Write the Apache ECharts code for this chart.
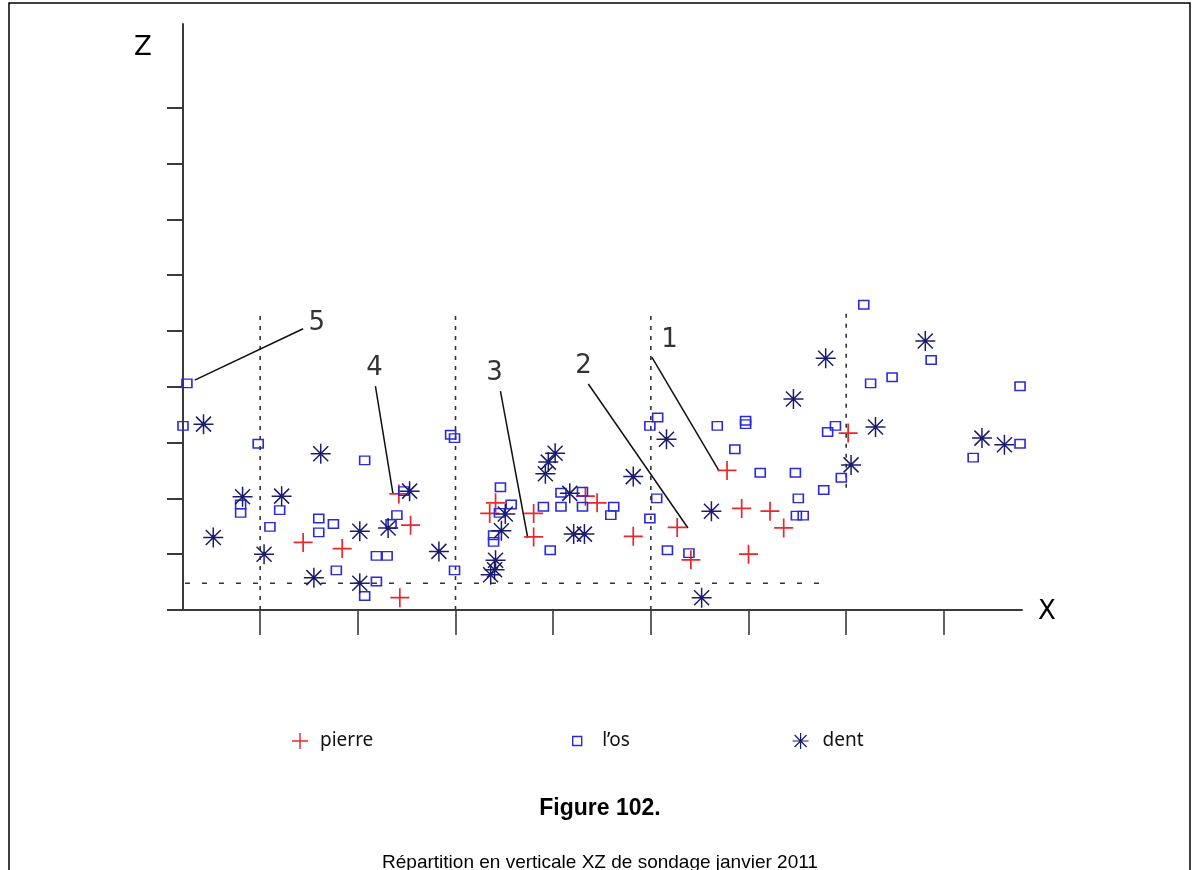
<!DOCTYPE html>
<html><head><meta charset="utf-8">
<script src="https://cdn.jsdelivr.net/npm/echarts@6/dist/echarts.min.js"></script>
<style>html,body{margin:0;padding:0;background:#fff}#c{width:1200px;height:870px}</style>
</head><body><div id="c"></div>
<script>
// ---- data (X and Z in axis units; one X tick = 1, one Z tick = 1) ----
const xTicks = [0, 1, 2, 3, 4, 5, 6, 7];
const zTicks = [0, 1, 2, 3, 4, 5, 6, 7, 8, 9];
const seriesNames = ['pierre', 'l\u2019os', 'dent'];

const pierre = [
  [0.44,1.21],[0.84,1.10],[1.42,2.08],[1.54,1.52],[1.43,0.22],[2.41,1.92],[2.35,1.73],
  [2.80,1.73],[2.80,1.31],[3.33,2.04],[3.45,1.92],[3.82,1.32],[4.27,1.48],[4.41,0.90],
  [4.78,2.50],[4.93,1.82],[5.22,1.77],[5.36,1.47],[5.00,1.00],[6.02,3.17]
];
const os = [
  [-0.75,4.06],[-0.79,3.30],[-0.02,2.98],[-0.20,1.89],[-0.20,1.74],[0.20,1.79],[0.10,1.49],
  [0.60,1.64],[0.75,1.54],[0.60,1.39],[0.78,0.71],[1.07,2.68],[1.95,3.14],[1.99,3.08],
  [1.47,2.13],[1.40,1.70],[1.34,1.54],[1.19,0.97],[1.30,0.97],[1.99,0.71],[1.19,0.51],
  [1.07,0.25],[2.46,2.20],[2.57,1.89],[2.45,1.74],[2.39,1.34],[2.39,1.22],[2.90,1.85],
  [2.97,1.07],[3.08,2.10],[3.08,1.85],[3.30,2.12],[3.30,1.85],[3.62,1.85],[3.59,1.70],
  [4.07,3.45],[3.99,3.30],[4.06,2.00],[3.99,1.64],[4.17,1.07],[4.39,1.02],[4.68,3.30],
  [4.97,3.39],[4.97,3.33],[4.86,2.88],[5.12,2.46],[5.48,2.46],[5.51,2.00],[5.49,1.69],
  [5.56,1.69],[5.77,2.15],[5.95,2.37],[5.81,3.19],[5.89,3.30],[6.18,5.47],[6.25,4.06],
  [6.47,4.17],[6.87,4.48],[7.78,4.01],[7.78,2.98],[7.30,2.73]
];
const dent = [
  [-0.58,3.33],[-0.18,2.03],[0.22,2.04],[-0.48,1.30],[0.04,1.00],[0.62,2.80],[0.55,0.58],
  [1.02,1.41],[1.31,1.47],[1.53,2.13],[1.02,0.48],[1.83,1.05],[2.51,1.72],[2.47,1.42],
  [2.41,0.89],[2.40,0.72],[2.36,0.63],[3.02,2.81],[2.95,2.65],[2.92,2.44],[3.17,2.09],
  [3.21,1.36],[3.32,1.36],[3.82,2.39],[4.16,3.06],[4.62,1.77],[4.52,0.22],[5.46,3.78],
  [5.79,4.51],[6.05,2.60],[6.30,3.28],[6.81,4.82],[7.39,3.08],[7.62,2.96]
];

// numbered call-outs: label point, leader line start and end (axis units)
const annotLabels = ['5', '4', '3', '2', '1'];
const annotAt   = [[0.58,5.14],[1.17,4.34],[2.40,4.25],[3.31,4.37],[4.19,4.84]];
const annotFrom = [[0.44,5.04],[1.18,4.01],[2.46,3.92],[3.36,4.05],[4.01,4.53]];
const annotTo   = [[-0.67,4.12],[1.36,2.08],[2.74,1.29],[4.38,1.47],[4.70,2.49]];

// dotted section lines (axis units)
const sectionLines = [
  [[0,0],[0,5.36]], [[2,0],[2,5.36]], [[4,0],[4,5.36]], [[6,2.19],[6,5.33]]
];
const levelLine = [[-0.77,0.48],[5.83,0.48]];

const titleText = 'Figure 102.';
const subtitleText = 'R\u00e9partition en verticale XZ de sondage janvier 2011';

// ---- styles ----
const RED = '#e8282c', BLUE = '#2b2bd8', NAVY = '#1c1c6e', AXIS = '#3a3a3a';
const PLUS = 'path://M9.1,0H10.9V20H9.1ZM0,9.1H20V10.9H0Z';
const BOX = 'path://M0,0H10V10H0Z';
const STAR = 'path://M0,10H20M10,0V20M2.5,2.5L17.5,17.5M2.5,17.5L17.5,2.5M8.6,10A1.4,1.4,0,1,0,11.4,10A1.4,1.4,0,1,0,8.6,10Z';

const series = [];
sectionLines.forEach(pts => series.push({
  type: 'line', data: pts, symbol: 'none', silent: true, z: 1, animation: false,
  lineStyle: { color: '#333', width: 1.6, type: [4, 6] }
}));
series.push({
  type: 'line', data: levelLine, symbol: 'none', silent: true, z: 1, animation: false,
  lineStyle: { color: '#333', width: 1.4, type: [5, 12] }
});
annotFrom.forEach((p, i) => series.push({
  type: 'line', data: [p, annotTo[i]], symbol: 'none', silent: true, z: 2, animation: false,
  lineStyle: { color: '#111', width: 1.5 }
}));
series.push({
  type: 'scatter', silent: true, symbolSize: 0, z: 3, animation: false,
  data: annotAt.map((p, i) => ({ name: annotLabels[i], value: p })),
  label: { show: true, position: 'inside', formatter: '{b}', color: '#000',
           fontFamily: 'DejaVu Sans', fontSize: 26 }
});
series.push({
  name: seriesNames[0], type: 'scatter', data: pierre, symbol: PLUS, symbolSize: 19, z: 5,
  itemStyle: { color: RED, opacity: 1 }
});
series.push({
  name: seriesNames[1], type: 'scatter', data: os, symbol: 'rect', symbolSize: [10, 8.5], z: 5,
  itemStyle: { color: 'rgba(0,0,0,0)', borderColor: BLUE, borderWidth: 1.5, opacity: 1 }
});
series.push({
  name: seriesNames[2], type: 'scatter', data: dent, symbol: STAR, symbolSize: 20, z: 6,
  itemStyle: { color: NAVY, borderColor: NAVY, borderWidth: 1.5, opacity: 1 }
});

function legendFor(name, left, itemWidth, itemHeight, icon, itemStyle) {
  return {
    data: [{ name, icon, itemStyle }], left, top: 731, padding: 0, itemGap: 0,
    itemWidth, itemHeight, symbolKeepAspect: true, selectedMode: false,
    textStyle: { fontFamily: 'Noto Sans', fontSize: 19, color: '#111', lineHeight: 20 }
  };
}

const option = {
  animation: false,
  backgroundColor: '#fff',
  grid: { left: 183, right: 178, top: 24, bottom: 260, outerBoundsMode: 'none', containLabel: false },
  xAxis: {
    type: 'value', min: -0.79, max: 7.8,
    axisLine: { show: true, onZero: false, lineStyle: { color: AXIS, width: 2 } },
    axisTick: { show: true, customValues: xTicks, length: 25, inside: false,
                lineStyle: { color: AXIS, width: 1.6 } },
    axisLabel: { show: false }, splitLine: { show: false }
  },
  yAxis: {
    type: 'value', min: 0, max: 10.5,
    axisLine: { show: true, onZero: false, lineStyle: { color: AXIS, width: 2 } },
    axisTick: { show: true, customValues: zTicks, length: 16, inside: false,
                lineStyle: { color: AXIS, width: 2 } },
    axisLabel: { show: false }, splitLine: { show: false }
  },
  title: [
    { text: titleText, left: 'center', top: 797, padding: 0,
      textStyle: { fontFamily: 'Liberation Sans', fontWeight: 'bold', fontSize: 23, color: '#000' } },
    { text: subtitleText, left: 'center', top: 853, padding: 0,
      textStyle: { fontFamily: 'Liberation Sans', fontWeight: 'normal', fontSize: 19, color: '#000' } }
  ],
  legend: [
    legendFor(seriesNames[0], 292, 30, 16, PLUS, { color: RED }),
    legendFor(seriesNames[1], 572, 40, 9, BOX, { color: 'rgba(0,0,0,0)', borderColor: BLUE, borderWidth: 1.4 }),
    legendFor(seriesNames[2], 792, 34, 16, STAR, { color: NAVY, borderColor: NAVY, borderWidth: 1.2 })
  ],
  graphic: [
    { type: 'rect', silent: true, shape: { x: 9, y: 3, width: 1181, height: 900 },
      style: { fill: 'none', stroke: '#000', lineWidth: 1.5 } },
    { type: 'text', silent: true, style: { text: 'Z', x: 143, y: 48, align: 'center', verticalAlign: 'middle',
      font: '26px "DejaVu Sans"', fill: '#000' } },
    { type: 'text', silent: true, style: { text: 'X', x: 1047, y: 612, align: 'center', verticalAlign: 'middle',
      font: '26px "DejaVu Sans"', fill: '#000' } }
  ],
  series
};

const chart = echarts.init(document.getElementById('c'), null, { renderer: 'canvas' });
chart.setOption(option);
</script>
</body></html>
